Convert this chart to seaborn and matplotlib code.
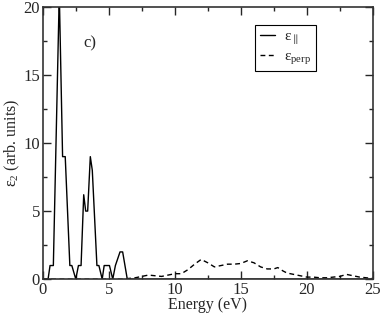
import numpy as np
import pandas as pd
import matplotlib
matplotlib.use('Agg')
import matplotlib.pyplot as plt
import seaborn as sns
from matplotlib.ticker import MultipleLocator

sns.set_style('ticks')
plt.rcParams['font.family'] = ['Liberation Serif', 'DejaVu Serif']
plt.rcParams['mathtext.fontset'] = 'custom'
plt.rcParams['mathtext.rm'] = 'Liberation Serif'
plt.rcParams['mathtext.it'] = 'Liberation Serif:italic'

# solid curve, eps parallel
energy_par = [0, 0.4, 0.55, 0.8, 1.25, 1.5, 1.7, 2.05, 2.2, 2.5, 2.7, 2.9, 3.1, 3.25,
              3.4, 3.6, 3.75, 4.1, 4.25, 4.5, 4.65, 5.05, 5.3, 5.5, 5.85, 6.05, 6.4, 25]
eps_par = [0, 0, 1, 1, 21, 9, 9, 1, 1, 0, 1, 1, 6.2, 5,
           5, 9, 8, 1, 1, 0, 1, 1, 0, 1, 2, 2, 0, 0]

# dashed curve, eps perp
energy_perp = [0, 6.0, 6.5, 7.0, 7.5, 8.0, 8.5, 9.0, 9.5, 10.0, 10.5, 11.0, 11.5, 12.0,
               12.5, 13.0, 13.5, 14.0, 14.5, 15.0, 15.5, 16.0, 16.5, 17.0, 17.5, 17.8,
               18.2, 18.5, 19.0, 19.5, 20.0, 20.5, 21.0, 21.5, 22.0, 22.5, 23.0, 23.5,
               24.0, 24.5, 25]
eps_perp = [0, 0, 0.05, 0.1, 0.2, 0.3, 0.25, 0.2, 0.3, 0.4, 0.4, 0.7, 1.1, 1.45,
            1.2, 0.9, 1.0, 1.1, 1.1, 1.15, 1.35, 1.2, 0.9, 0.75, 0.75, 0.85,
            0.6, 0.45, 0.35, 0.25, 0.15, 0.15, 0.1, 0.1, 0.15, 0.2, 0.35, 0.25,
            0.15, 0.1, 0.05]

df_par = pd.DataFrame({'E': energy_par, 'eps': eps_par})
df_perp = pd.DataFrame({'E': energy_perp, 'eps': eps_perp})

fig = plt.figure(figsize=(3.82, 3.14), dpi=100)
ax = fig.add_axes([0.112, 0.111, 0.864, 0.867])

sns.lineplot(data=df_par, x='E', y='eps', color='black', lw=1.0, ax=ax,
             label='ε$_{\\parallel}$')
sns.lineplot(data=df_perp, x='E', y='eps', color='black', lw=1.0, ax=ax,
             linestyle=(0, (3.5, 2.5)), label='ε$_{\\mathrm{perp}}$')

ax.set_xlim(0, 25)
ax.set_ylim(0, 20)
ax.xaxis.set_major_locator(MultipleLocator(5))
ax.xaxis.set_minor_locator(MultipleLocator(2.5))
ax.yaxis.set_major_locator(MultipleLocator(5))
ax.yaxis.set_minor_locator(MultipleLocator(2.5))
ax.tick_params(which='both', direction='in', top=True, right=True, labelsize=12)
ax.tick_params(which='major', length=6, width=1, pad=2)
ax.tick_params(which='minor', length=3, width=1)
for s in ax.spines.values():
    s.set_linewidth(1.2)
    s.set_color('#333333')

ax.set_xlabel('Energy (eV)', fontsize=11.5, labelpad=-1)
ax.set_ylabel('ε$_{2}$ (arb. units)', fontsize=11.5, labelpad=1)
ax.text(3.1, 17.0, 'c)', fontsize=12)

leg = ax.legend(loc='upper right', bbox_to_anchor=(0.827, 0.934), borderaxespad=0,
                fancybox=False, edgecolor='black', framealpha=1, handlelength=1.0,
                handletextpad=0.6, borderpad=0.3, labelspacing=0.2, fontsize=11)
leg.get_frame().set_linewidth(0.8)

fig.savefig('out.png', dpi=100)
